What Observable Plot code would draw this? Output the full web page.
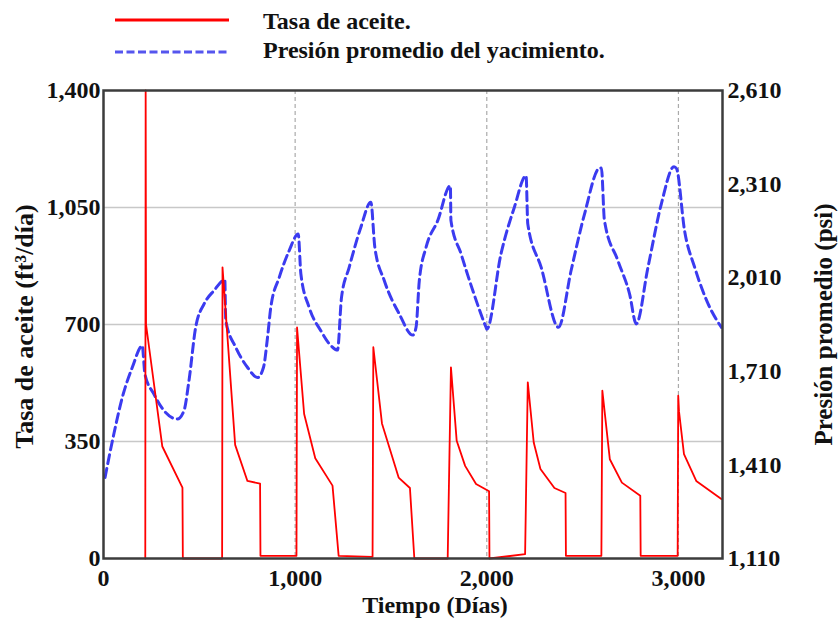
<!DOCTYPE html>
<html><head><meta charset="utf-8">
<script src="https://cdn.jsdelivr.net/npm/d3@7"></script>
<script src="https://cdn.jsdelivr.net/npm/@observablehq/plot@0.6"></script>
<style>
body{margin:0;background:#fff;font-family:"Liberation Serif","Times New Roman",serif;}
#legend{position:relative;height:75px;width:840px;}
.sw{position:absolute;left:115px;}
.lt{position:absolute;left:263px;font-weight:bold;font-size:24px;color:#111;line-height:24px;white-space:nowrap;}
</style></head><body>
<div id="legend"></div>
<div id="chart"></div>
<script>
// Oil rate (ft3/day) vs time (days)
const rateDays   = [218, 220, 222, 307, 412, 414, 619, 621, 687, 751, 817, 819, 1007, 1010, 1047, 1105, 1195, 1227, 1404, 1408, 1453, 1540, 1599, 1622, 1796, 1813, 1843, 1887, 1944, 2012, 2014, 2200, 2214, 2245, 2280, 2353, 2411, 2413, 2598, 2603, 2642, 2705, 2801, 2803, 2996, 2999, 3003, 3029, 3093, 3224];
const rateValues = [0, 1400, 700, 335, 212, 0, 0, 871, 340, 232, 224, 8, 8, 691, 432, 300, 218, 8, 5, 632, 404, 242, 211, 0, 0, 572, 352, 277, 223, 201, 0, 13, 527, 347, 268, 211, 196, 8, 8, 502, 297, 227, 188, 8, 8, 487, 440, 312, 232, 178];
// Average reservoir pressure (psi) vs time (days)
const presDays   = [8, 54, 98, 150, 203, 208, 216, 263, 324, 385, 420, 446, 481, 525, 577, 633, 638, 690, 751, 804, 835, 856, 873, 917, 969, 1016, 1030, 1073, 1134, 1187, 1221, 1242, 1282, 1343, 1395, 1416, 1465, 1543, 1614, 1631, 1648, 1683, 1744, 1810, 1813, 1866, 1927, 1996, 2000, 2074, 2144, 2205, 2214, 2284, 2374, 2440, 2510, 2590, 2598, 2614, 2684, 2745, 2780, 2841, 2911, 2977, 2990, 3032, 3085, 3155, 3224];
const presValues = [1370, 1509, 1626, 1722, 1792, 1760, 1701, 1637, 1578, 1557, 1584, 1680, 1851, 1926, 1969, 2003, 1872, 1787, 1723, 1690, 1723, 1819, 1915, 2011, 2097, 2150, 2022, 1915, 1840, 1792, 1778, 1947, 2043, 2172, 2252, 2107, 2001, 1894, 1826, 1851, 2001, 2107, 2193, 2305, 2193, 2086, 1969, 1851, 1845, 2086, 2236, 2337, 2182, 2043, 1851, 2033, 2214, 2362, 2362, 2193, 2065, 1958, 1862, 2043, 2247, 2366, 2360, 2161, 2043, 1926, 1851];

const xTicks = [0, 1000, 2000, 3000];
const leftTicks = [0, 350, 700, 1050, 1400];
const rightTicks = [1110, 1410, 1710, 2010, 2310, 2610];
const gridRates = [350, 700, 1050];
const gridDays = [1000, 2000, 3000];
const xTitle = "Tiempo (Días)";
const yLeftTitle = "Tasa de aceite (ft³/día)";
const yRightTitle = "Presión promedio (psi)";

const P0 = 1110, P1 = 2610, R1 = 1400;
const toR = p => (p - P0) / (P1 - P0) * R1;
const toP = r => r / R1 * (P1 - P0) + P0;
const rateData = rateDays.map((d, i) => ({d, v: rateValues[i]}));
const presData = presDays.map((d, i) => ({d, v: toR(presValues[i])}));

// legend
const legend = document.getElementById("legend");
legend.innerHTML = `
<svg class="sw" style="top:15px" width="114" height="10"><line x1="0" x2="114" y1="5" y2="5" stroke="#ff0000" stroke-width="3"/></svg>
<div class="lt" style="top:9px">Tasa de aceite.</div>
<svg class="sw" style="top:47px" width="114" height="10"><line x1="0" x2="114" y1="5" y2="5" stroke="#5555ee" stroke-width="3" stroke-dasharray="8,3.5"/></svg>
<div class="lt" style="top:38px">Presión promedio del yacimiento.</div>`;

const fmt = d3.format(",");
const titleStyle = {fontWeight: "bold", fill: "#111", textAnchor: "middle", lineAnchor: "middle"};
const chart = Plot.plot({
  width: 840, height: 550,
  marginTop: 15, marginBottom: 67, marginLeft: 103, marginRight: 118,
  style: {fontFamily: "'Liberation Serif','Times New Roman',serif", fontWeight: "bold", fontSize: "24px", color: "#111", background: "#fff", overflow: "visible"},
  x: {domain: [0, 3230]},
  y: {domain: [0, 1400]},
  marks: [
    Plot.ruleY(gridRates, {stroke: "#c8c8c8", strokeWidth: 1.5}),
    Plot.ruleX(gridDays, {stroke: "#aaa", strokeDasharray: "4,3", strokeWidth: 1.2}),
    Plot.line(presData, {x: "d", y: "v", stroke: "#3b3bf0", strokeWidth: 3, strokeDasharray: "9,5", curve: "monotone-x"}),
    Plot.line(rateData, {x: "d", y: "v", stroke: "#ff0000", strokeWidth: 1.8}),
    Plot.frame({stroke: "#3c3c3c", strokeWidth: 2.5}),
    Plot.axisX({ticks: xTicks, tickFormat: fmt, tickSize: 0, tickPadding: 10, label: null}),
    Plot.axisY({ticks: leftTicks, tickFormat: fmt, tickSize: 0, tickPadding: 3, label: null}),
    Plot.axisY({anchor: "right", ticks: rightTicks.map(toR), tickFormat: v => fmt(Math.round(toP(v))), tickSize: 0, tickPadding: 5, label: null}),
    Plot.text([xTitle], {frameAnchor: "bottom", dx: 22, dy: 47, fontSize: 24, ...titleStyle}),
    Plot.text([yLeftTitle], {frameAnchor: "left", dx: -79, dy: 2, rotate: -90, fontSize: 26, ...titleStyle}),
    Plot.text([yRightTitle], {frameAnchor: "right", dx: 101, rotate: -90, fontSize: 25, ...titleStyle})
  ]
});
document.getElementById("chart").appendChild(chart);
</script></body></html>
